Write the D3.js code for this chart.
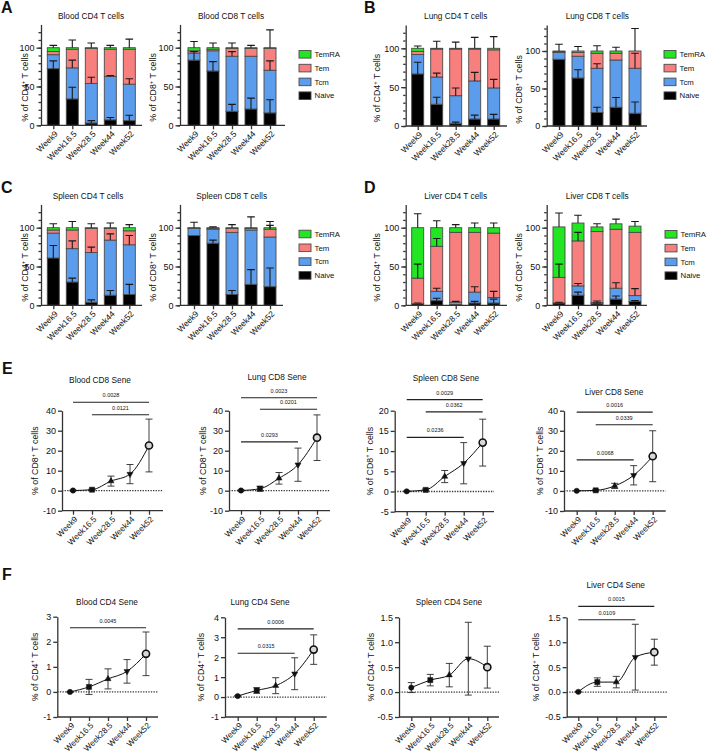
<!DOCTYPE html>
<html><head><meta charset="utf-8">
<script src="https://cdn.jsdelivr.net/npm/d3@7"></script>
<style>
body{margin:0;background:#fff}
svg{display:block}
text{font-family:"Liberation Sans",Arial,Helvetica,sans-serif;fill:#111}
</style>
</head><body>
<svg id="fig" width="708" height="754"></svg>
<script>
// ---------------- DATA ----------------
const weeks = ["Week9", "Week16.5", "Week28.5", "Week44", "Week52"];
const subsets = ["Naive", "Tcm", "Tem", "TemRA"];
const legendOrder = ["TemRA", "Tem", "Tcm", "Naive"];

// stacked % (rows: Naive, Tcm, Tem, TemRA) and upward SD of each segment
const bloodCD4Pct = [[73, 34, 3, 7, 6], [18, 40, 51, 56, 47], [4, 24, 45, 35, 45], [5, 2, 1, 2, 2]];
const bloodCD4Err = [[10, 15, 3, 3, 7], [0, 10, 8, 1, 7], [0, 0, 0, 0, 0], [3, 10, 6, 3, 11]];
const bloodCD8Pct = [[84, 70, 18, 21, 16], [9, 26, 71, 68, 55], [3, 2, 10, 10, 28], [4, 2, 1, 1, 1]];
const bloodCD8Err = [[11, 12, 9, 14, 17], [0, 0, 6, 0, 12], [0, 0, 0, 0, 0], [8, 6, 6, 3, 23]];
const lungCD4Pct = [[67, 28, 3, 9, 9], [25, 35, 36, 49, 40], [4, 36, 60, 41, 49], [4, 1, 1, 1, 2]];
const lungCD4Err = [[15, 9, 2, 5, 6], [0, 5, 10, 11, 11], [0, 0, 0, 0, 0], [3, 9, 8, 14, 15]];
const lungCD8Pct = [[89, 64, 18, 25, 17], [9, 29, 59, 63, 60], [1, 5, 20, 9, 23], [1, 2, 3, 3, 0]];
const lungCD8Err = [[0, 11, 7, 13, 15], [0, 0, 6, 0, 20], [0, 0, 0, 0, 0], [9, 6, 7, 5, 30]];
const spleenCD4Pct = [[61, 30, 4, 13, 14], [32, 43, 64, 71, 64], [4, 24, 31, 15, 18], [3, 3, 1, 1, 4]];
const spleenCD4Err = [[16, 5, 3, 6, 13], [0, 10, 7, 8, 12], [0, 0, 0, 0, 0], [5, 8, 5, 6, 4]];
const spleenCD8Pct = [[90, 80, 14, 27, 24], [9, 18, 80, 70, 64], [0.5, 1, 5, 2, 10], [0.5, 1, 1, 1, 2]];
const spleenCD8Err = [[0, 4, 5, 19, 24], [0, 0, 0, 0, 0], [0, 0, 0, 0, 5], [7, 1, 4, 14, 8]];
const liverCD4Pct = [[2, 6, 1, 3, 3], [0, 12, 3, 14, 7], [33, 58, 90, 77, 83], [65, 24, 6, 6, 7]];
const liverCD4Err = [[1, 3, 0, 2, 5], [0, 4, 1, 7, 8], [18, 10, 0, 0, 0], [18, 9, 4, 6, 6]];
const liverCD8Pct = [[3, 13, 2, 8, 5], [0, 12, 1.5, 14, 7.5], [33, 58, 91.5, 76, 81.5], [65, 23, 6, 7, 8]];
const liverCD8Err = [[1, 4, 1, 4, 1], [0, 3, 2, 7, 9], [17, 11, 0, 0, 0], [18, 10, 4, 6, 6]];

// senescent cells: mean and SD
const bloodCD8Sene = [0.1, 0.5, 4.8, 8.3, 22.6];
const bloodCD8SeneSD = [0.2, 0.3, 2.5, 4.8, 13.2];
const lungCD8Sene = [0.1, 1, 6.2, 13, 26.5];
const lungCD8SeneSD = [0.3, 1.2, 2.9, 8.3, 11.4];
const spleenCD8Sene = [0.05, 0.4, 3.7, 7, 12.1];
const spleenCD8SeneSD = [0.1, 0.2, 1.5, 5.1, 5.8];
const liverCD8Sene = [0.05, 0.3, 2.5, 7.8, 17.3];
const liverCD8SeneSD = [0.1, 0.3, 1.3, 4.8, 12.7];
const bloodCD4Sene = [0, 0.2, 0.52, 0.82, 1.52];
const bloodCD4SeneSD = [0.02, 0.3, 0.4, 0.47, 0.87];
const lungCD4Sene = [0.05, 0.33, 0.57, 1.17, 2.38];
const lungCD4SeneSD = [0.03, 0.14, 0.4, 0.8, 0.74];
const spleenCD4Sene = [0.09, 0.24, 0.34, 0.67, 0.5];
const spleenCD4SeneSD = [0.1, 0.115, 0.235, 0.73, 0.42];
const liverCD4Sene = [0.005, 0.2, 0.2, 0.7, 0.8];
const liverCD4SeneSD = [0.01, 0.085, 0.115, 0.66, 0.26];

// significance brackets: [from, to, height (data units), p]
const bloodCD8Sig = [["Week9", "Week52", 44.2, "0.0028"], ["Week16.5", "Week52", 38, "0.0121"]];
const lungCD8Sig = [["Week9", "Week52", 46.5, "0.0023"], ["Week16.5", "Week52", 40.7, "0.0201"], ["Week9", "Week44", 24.4, "0.0293"]];
const spleenCD8Sig = [["Week9", "Week52", 22.75, "0.0029"], ["Week16.5", "Week52", 19.7, "0.0362"], ["Week9", "Week44", 13.4, "0.0236"]];
const liverCD8Sig = [["Week9", "Week52", 39.3, "0.0016"], ["Week16.5", "Week52", 33, "0.0339"], ["Week9", "Week44", 15.5, "0.0068"]];
const bloodCD4Sig = [["Week9", "Week52", 2.56, "0.0045"]];
const lungCD4Sig = [["Week9", "Week52", 3.42, "0.0006"], ["Week9", "Week44", 2.2, "0.0315"]];
const spleenCD4Sig = [];
const liverCD4Sig = [["Week9", "Week52", 1.72, "0.0015"], ["Week9", "Week44", 1.45, "0.0109"]];

// ---------------- STYLE / LAYOUT ----------------
const colors = {Naive: "#000000", Tcm: "#5b9ced", Tem: "#f7807e", TemRA: "#22e622"};
const AX = "#333";
const svg = d3.select("#fig");

function yLabel(g, x, y, cell) {
  const t = g.append("text").attr("transform", `translate(${x},${y}) rotate(-90)`)
    .attr("text-anchor", "middle").attr("font-size", 8.8);
  t.append("tspan").text(`% of ${cell}`);
  t.append("tspan").attr("font-size", 5.8).attr("dy", -3.4).text("+");
  t.append("tspan").attr("dy", 3.4).text(" T cells");
}

function styleAxis(a, fs) {
  a.selectAll("path,line").attr("stroke", AX).attr("stroke-width", 1.3);
  a.selectAll("text").attr("font-size", fs || 9).attr("fill", "#111");
}

function barChart(c) {
  const g = svg.append("g");
  const x = d3.scalePoint().domain(weeks).range([c.cx0, c.cx0 + 76]);
  const y = d3.scaleLinear().domain([0, c.max]).range([c.y0, c.y0 - (c.y0 - c.y100) * c.max / 100]);
  const rows = weeks.map((w, i) => {
    const r = {week: w};
    subsets.forEach((s, k) => r[s] = c.pct[k][i]);
    return r;
  });
  const layers = d3.stack().keys(subsets)(rows);
  const bw = 12;
  layers.forEach(layer => {
    g.append("g").selectAll("rect").data(layer).join("rect")
      .attr("x", d => x(d.data.week) - bw / 2).attr("width", bw)
      .attr("y", d => y(d[1])).attr("height", d => Math.max(0, y(d[0]) - y(d[1])))
      .attr("fill", colors[layer.key]).attr("stroke", "#4a4a4a").attr("stroke-width", 0.9);
  });
  layers.forEach((layer, k) => {
    g.append("g").selectAll("path").data(layer.filter((d, i) => c.err[k][i] > 0)).join("path")
      .attr("d", d => {
        const i = weeks.indexOf(d.data.week);
        const cx = x(d.data.week), top = y(d[1] + c.err[k][i]);
        return `M${cx},${y(d[1])}V${top}M${cx - 3.8},${top}H${cx + 3.8}`;
      })
      .attr("stroke", "#1a1a1a").attr("stroke-width", 1.1).attr("fill", "none");
  });
  const minor = g.append("g").attr("transform", `translate(${c.ax},0)`)
    .call(d3.axisLeft(y).tickValues(d3.range(0, c.max, 10)).tickSize(2.5).tickSizeOuter(0).tickFormat(""));
  styleAxis(minor);
  const major = g.append("g").attr("transform", `translate(${c.ax},0)`)
    .call(d3.axisLeft(y).tickValues([0, 50, 100]).tickSize(4.5).tickSizeOuter(0).tickPadding(2));
  styleAxis(major, 9);
  major.select(".domain").remove();
  const xa = g.append("g").attr("transform", `translate(0,${c.y0})`)
    .call(d3.axisBottom(x).tickSize(4).tickSizeOuter(0).tickFormat(""));
  styleAxis(xa);
  xa.select(".domain").attr("d", `M${c.ax},0H${c.xEnd}`);
  g.append("g").selectAll("text").data(weeks).join("text")
    .attr("transform", d => `translate(${x(d) + 3},${c.y0 + 7}) rotate(-45)`)
    .attr("text-anchor", "end").attr("dy", "0.35em").attr("font-size", 8.4).text(d => d);
  g.append("text").attr("x", c.tx).attr("y", c.ty).attr("dy", "0.35em")
    .attr("text-anchor", "middle").attr("font-size", 8.3).text(c.title);
  yLabel(g, c.labx, (c.y0 + y(100)) / 2 + 1, c.cell);
}

function legend(x0, y0) {
  const g = svg.append("g");
  const items = g.selectAll("g").data(legendOrder).join("g")
    .attr("transform", (d, i) => `translate(${x0},${y0 + i * 13.8})`);
  items.append("rect").attr("x", 0).attr("y", -3.8).attr("width", 12).attr("height", 7.6)
    .attr("fill", d => colors[d]).attr("stroke", "#4a4a4a").attr("stroke-width", 0.9);
  items.append("text").attr("x", 15.5).attr("dy", "0.35em").attr("font-size", 7.8).text(d => d);
}

const symbols = [
  {type: d3.symbolCircle, size: 22, fill: "#111", rot: 0},
  {type: d3.symbolSquare, size: 26, fill: "#111", rot: 0},
  {type: d3.symbolTriangle, size: 16, fill: "#111", rot: 0},
  {type: d3.symbolTriangle, size: 16, fill: "#111", rot: 180},
  {type: d3.symbolCircle, size: 40, fill: "#d8d8d8", rot: 0}
];

function lineChart(c) {
  const g = svg.append("g");
  const x = d3.scalePoint().domain(weeks).range([c.cx0, c.cx0 + 76]);
  const y = d3.scaleLinear().domain(c.dom).range([c.yBot, c.yTop]);
  const ya = g.append("g").attr("transform", `translate(${c.ax},0)`)
    .call(d3.axisLeft(y).tickValues(c.ticks).tickSize(4).tickSizeOuter(0).tickPadding(2).tickFormat(d3.format(c.fmt)));
  styleAxis(ya, 9);
  ya.selectAll("text").text(function () { return this.textContent.replace("−", "-"); });
  const xa = g.append("g").attr("transform", `translate(0,${c.yBot})`)
    .call(d3.axisBottom(x).tickSize(4).tickSizeOuter(0).tickFormat(""));
  styleAxis(xa);
  xa.select(".domain").attr("d", `M${c.ax},0H${c.xEnd}`);
  g.append("g").selectAll("text").data(weeks).join("text")
    .attr("transform", d => `translate(${x(d) + 3},${c.yBot + 7}) rotate(-45)`)
    .attr("text-anchor", "end").attr("dy", "0.35em").attr("font-size", 8.2).text(d => d);
  g.append("line").attr("x1", c.ax).attr("x2", c.xEnd).attr("y1", y(0)).attr("y2", y(0))
    .attr("stroke", "#333").attr("stroke-width", 1.3).attr("stroke-dasharray", "1.3,1.3");
  g.append("g").selectAll("path").data(weeks).join("path")
    .attr("d", (w, i) => {
      const cx = x(w), t = y(c.mean[i] + c.sd[i]), b = y(c.mean[i] - c.sd[i]);
      return `M${cx},${t}V${b}M${cx - 3.5},${t}H${cx + 3.5}M${cx - 3.5},${b}H${cx + 3.5}`;
    })
    .attr("stroke", "#2a2a2a").attr("stroke-width", 0.9).attr("fill", "none");
  g.append("path").datum(weeks)
    .attr("d", d3.line().x(w => x(w)).y((w, i) => y(c.mean[i])).curve(d3.curveMonotoneX))
    .attr("stroke", "#111").attr("stroke-width", 1).attr("fill", "none");
  g.append("g").selectAll("path").data(weeks).join("path")
    .attr("transform", (w, i) => `translate(${x(w)},${y(c.mean[i])}) rotate(${symbols[i].rot})`)
    .attr("d", (w, i) => d3.symbol(symbols[i].type, symbols[i].size)())
    .attr("fill", (w, i) => symbols[i].fill)
    .attr("stroke", "#111").attr("stroke-width", (w, i) => i === 4 ? 1.6 : 0.5);
  const sg = g.append("g").selectAll("g").data(c.sig).join("g");
  sg.append("line").attr("x1", d => x(d[0])).attr("x2", d => x(d[1]))
    .attr("y1", d => y(d[2])).attr("y2", d => y(d[2]))
    .attr("stroke", "#222").attr("stroke-width", 1.1);
  sg.append("text").attr("x", d => (x(d[0]) + x(d[1])) / 2).attr("y", d => y(d[2]) - 5)
    .attr("text-anchor", "middle").attr("font-size", 5.5).text(d => d[3]);
  g.append("text").attr("x", c.tx).attr("y", c.ty).attr("dy", "0.35em")
    .attr("text-anchor", "middle").attr("font-size", 8.3).text(c.title);
  yLabel(g, c.labx, (c.yBot + c.yTop) / 2, c.cell);
}

// ---------------- DRAW ----------------
const barCharts = [
  {title: "Blood CD4 T cells", cell: "CD4", pct: bloodCD4Pct, err: bloodCD4Err, ax: 41, cx0: 53.3, xEnd: 142, y0: 125.3, y100: 47.7, max: 130, tx: 91, ty: 16, labx: 28},
  {title: "Blood CD8 T cells", cell: "CD8", pct: bloodCD8Pct, err: bloodCD8Err, ax: 180, cx0: 194, xEnd: 285, y0: 125.3, y100: 47.7, max: 130, tx: 231, ty: 16, labx: 156},
  {title: "Lung CD4 T cells", cell: "CD4", pct: lungCD4Pct, err: lungCD4Err, ax: 405.7, cx0: 417.7, xEnd: 507, y0: 126, y100: 48.3, max: 130, tx: 455.7, ty: 16, labx: 380},
  {title: "Lung CD8 T cells", cell: "CD8", pct: lungCD8Pct, err: lungCD8Err, ax: 546.7, cx0: 559, xEnd: 647, y0: 126, y100: 51, max: 134.7, tx: 597.3, ty: 16, labx: 522},
  {title: "Spleen CD4 T cells", cell: "CD4", pct: spleenCD4Pct, err: spleenCD4Err, ax: 41, cx0: 53.3, xEnd: 142, y0: 305.3, y100: 227.7, max: 130, tx: 88, ty: 196, labx: 28},
  {title: "Spleen CD8 T cells", cell: "CD8", pct: spleenCD8Pct, err: spleenCD8Err, ax: 180, cx0: 194, xEnd: 283, y0: 305.3, y100: 227.7, max: 130, tx: 231.7, ty: 196, labx: 156},
  {title: "Liver CD4 T cells", cell: "CD4", pct: liverCD4Pct, err: liverCD4Err, ax: 405.7, cx0: 417.7, xEnd: 507, y0: 305.3, y100: 227.7, max: 130, tx: 455.7, ty: 196, labx: 380},
  {title: "Liver CD8 T cells", cell: "CD8", pct: liverCD8Pct, err: liverCD8Err, ax: 546.7, cx0: 559, xEnd: 647, y0: 305.3, y100: 227.7, max: 130, tx: 597.3, ty: 196, labx: 522}
];
barCharts.forEach(barChart);
legend(299, 54.3);
legend(664, 54.3);
legend(299, 234);
legend(665, 234.3);

const lineCharts = [
  {title: "Blood CD8 Sene", cell: "CD8", mean: bloodCD8Sene, sd: bloodCD8SeneSD, sig: bloodCD8Sig, ax: 62, cx0: 73, xEnd: 163, dom: [-10, 40], yBot: 510.7, yTop: 410.7, ticks: [-10, 0, 10, 20, 30, 40], fmt: "d", tx: 100, ty: 380, labx: 38},
  {title: "Lung CD8 Sene", cell: "CD8", mean: lungCD8Sene, sd: lungCD8SeneSD, sig: lungCD8Sig, ax: 229, cx0: 241, xEnd: 330, dom: [-10, 40], yBot: 510.7, yTop: 410.7, ticks: [-10, 0, 10, 20, 30, 40], fmt: "d", tx: 277, ty: 377, labx: 206},
  {title: "Spleen CD8 Sene", cell: "CD8", mean: spleenCD8Sene, sd: spleenCD8SeneSD, sig: spleenCD8Sig, ax: 394.7, cx0: 406.7, xEnd: 494, dom: [-5, 20], yBot: 511.7, yTop: 410.7, ticks: [-5, 0, 5, 10, 15, 20], fmt: "d", tx: 446, ty: 378, labx: 372.5},
  {title: "Liver CD8 Sene", cell: "CD8", mean: liverCD8Sene, sd: liverCD8SeneSD, sig: liverCD8Sig, ax: 564, cx0: 576.7, xEnd: 665.7, dom: [-10, 40], yBot: 511, yTop: 410.7, ticks: [-10, 0, 10, 20, 30, 40], fmt: "d", tx: 614, ty: 391.7, labx: 542.5},
  {title: "Blood CD4 Sene", cell: "CD4", mean: bloodCD4Sene, sd: bloodCD4SeneSD, sig: bloodCD4Sig, ax: 57.3, cx0: 70, xEnd: 158, dom: [-1, 3], yBot: 717, yTop: 616.7, ticks: [-1, 0, 1, 2, 3], fmt: "d", tx: 107, ty: 601.7, labx: 37.5},
  {title: "Lung CD4 Sene", cell: "CD4", mean: lungCD4Sene, sd: lungCD4SeneSD, sig: lungCD4Sig, ax: 225, cx0: 237.7, xEnd: 326.7, dom: [-1, 4], yBot: 717, yTop: 617.3, ticks: [-1, 0, 1, 2, 3, 4], fmt: "d", tx: 260, ty: 601.7, labx: 204},
  {title: "Spleen CD4 Sene", cell: "CD4", mean: spleenCD4Sene, sd: spleenCD4SeneSD, sig: spleenCD4Sig, ax: 399, cx0: 411.3, xEnd: 499, dom: [-0.5, 1.5], yBot: 717, yTop: 617.3, ticks: [-0.5, 0, 0.5, 1, 1.5], fmt: ".1f", tx: 449, ty: 601.7, labx: 374},
  {title: "Liver CD4 Sene", cell: "CD4", mean: liverCD4Sene, sd: liverCD4SeneSD, sig: liverCD4Sig, ax: 566.7, cx0: 578.3, xEnd: 667, dom: [-0.5, 1.5], yBot: 717, yTop: 617.3, ticks: [-0.5, 0, 0.5, 1, 1.5], fmt: ".1f", tx: 615.7, ty: 585, labx: 539}
];
lineCharts.forEach(lineChart);

const letters = [["A", 1, 13], ["B", 364, 13], ["C", 1, 193], ["D", 364, 193], ["E", 2, 374], ["F", 2, 580]];
svg.append("g").selectAll("text").data(letters).join("text")
  .attr("x", d => d[1]).attr("y", d => d[2]).attr("font-size", 16).attr("font-weight", "bold")
  .text(d => d[0]);
</script>
</body></html>
